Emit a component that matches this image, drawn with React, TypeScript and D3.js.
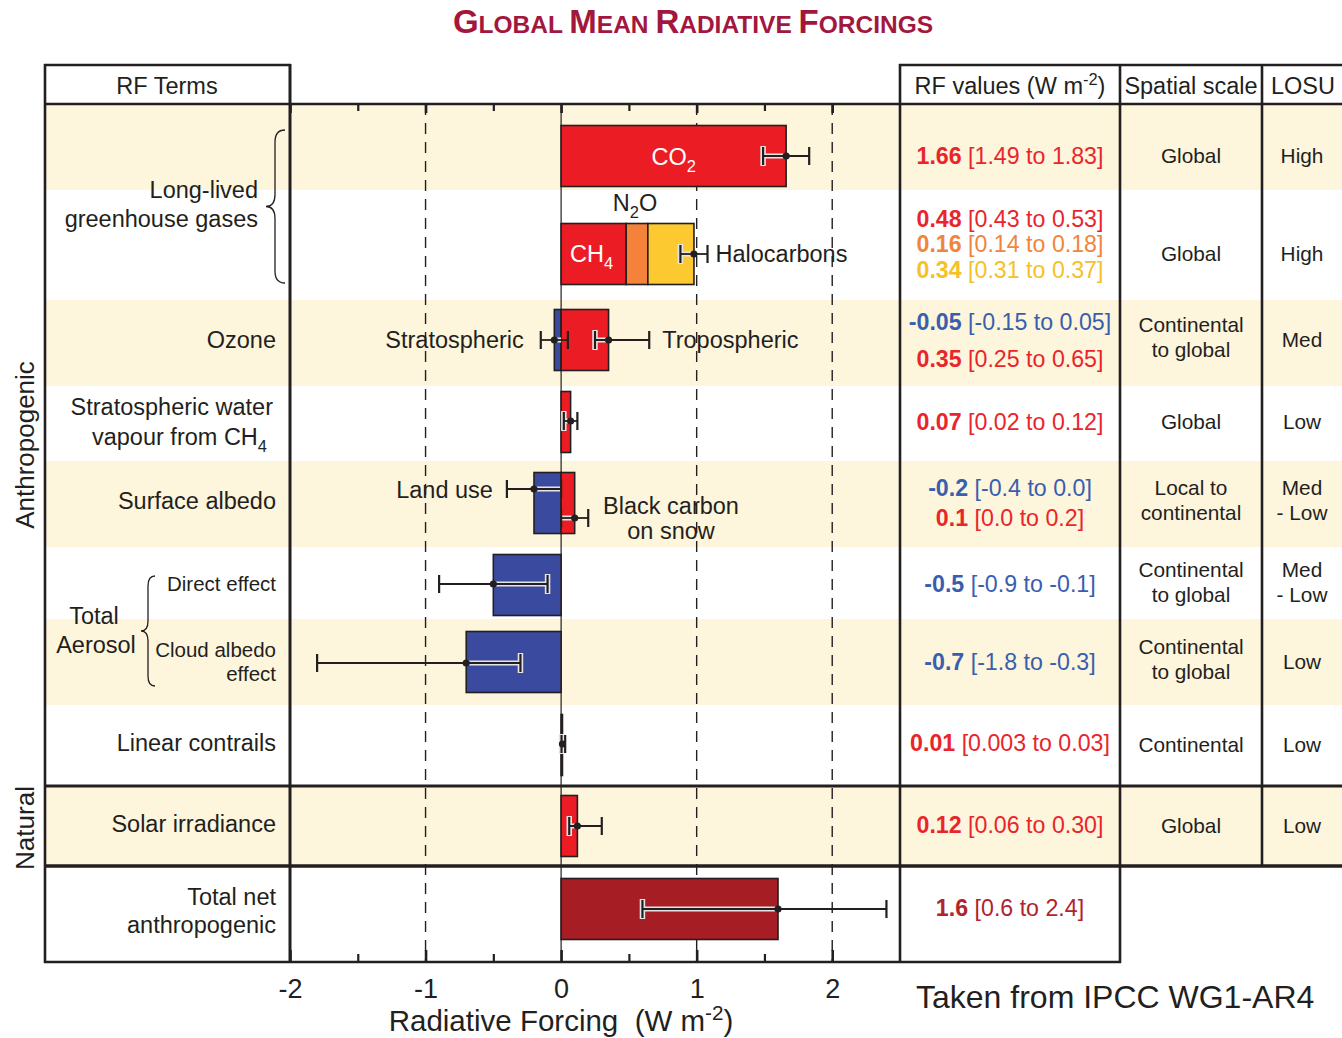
import React, { useEffect, useRef } from "react";
import * as d3 from "d3";

const WIDTH = 1342;
const HEIGHT = 1038;
const FONT = "'Liberation Sans', Arial, Helvetica, sans-serif";

// ---- values ----
const terms = [
  "CO2", "CH4", "N2O", "Halocarbons", "Stratospheric ozone", "Tropospheric ozone",
  "Stratospheric water vapour", "Land use", "Black carbon on snow", "Aerosol direct effect",
  "Cloud albedo effect", "Linear contrails", "Solar irradiance", "Total net anthropogenic",
];
const rfValue = [1.66, 0.48, 0.16, 0.34, -0.05, 0.35, 0.07, -0.2, 0.1, -0.5, -0.7, 0.01, 0.12, 1.6];
const rfLow = [1.49, 0.43, 0.14, 0.31, -0.15, 0.25, 0.02, -0.4, 0.0, -0.9, -1.8, 0.003, 0.06, 0.6];
const rfHigh = [1.83, 0.53, 0.18, 0.37, 0.05, 0.65, 0.12, 0.0, 0.2, -0.1, -0.3, 0.03, 0.3, 2.4];
const rfValueText = ["1.66", "0.48", "0.16", "0.34", "-0.05", "0.35", "0.07", "-0.2", "0.1", "-0.5", "-0.7", "0.01", "0.12", "1.6"];
const rfRangeText = [
  "[1.49 to 1.83]", "[0.43 to 0.53]", "[0.14 to 0.18]", "[0.31 to 0.37]", "[-0.15 to 0.05]",
  "[0.25 to 0.65]", "[0.02 to 0.12]", "[-0.4 to 0.0]", "[0.0 to 0.2]", "[-0.9 to -0.1]",
  "[-1.8 to -0.3]", "[0.003 to 0.03]", "[0.06 to 0.30]", "[0.6 to 2.4]",
];
const termRow = [0, 1, 1, 1, 2, 2, 3, 4, 4, 5, 6, 7, 8, 9];
const termKind = ["red", "red", "orange", "yellow", "blue", "red", "red", "blue", "red", "blue", "blue", "red", "red", "total"];

const spatialScale = [
  ["Global"], ["Global"], ["Continental", "to global"], ["Global"], ["Local to", "continental"],
  ["Continental", "to global"], ["Continental", "to global"], ["Continental"], ["Global"],
];
const losu = [["High"], ["High"], ["Med"], ["Low"], ["Med", "- Low"], ["Med", "- Low"], ["Low"], ["Low"], ["Low"]];

const majorTicks = [-2, -1, 0, 1, 2];
const minorTicks = [-1.5, -0.5, 0.5, 1.5];
const dashedTicks = [-1, 1, 2];

// ---- layout ----
const rowEdges = [104, 190, 300, 386, 461, 547, 619, 705, 786, 866, 962];
const rowMid = [156, 254, 340, 422, 503, 585, 662, 745, 826, 909];
const beigeRows = [0, 2, 4, 6, 8];
const errDy = [0, 0, 0, 0, 0, 0, -1, -14, 15, -1, 1, -1, 0, 0];
const valueY = [156, 219, 244, 270, 322, 359, 422, 488, 518, 584, 662, 743, 825, 908];
const BAR_H = 61;

const barFill: Record<string, string> = { red: "#ec1c24", orange: "#f4823a", yellow: "#fdc931", blue: "#3a4b9f", total: "#a61d24" };
const textFill: Record<string, string> = { red: "#e9252b", orange: "#f0853c", yellow: "#f6c126", blue: "#3a5eae", total: "#b1242b" };
const INK = "#231f20";

type Part = { t: string; shift?: number; bold?: boolean; fill?: string; size?: number };

function addText(g: any, x: number, y: number, parts: Part[] | string, size: number, anchor = "middle", fill = INK) {
  const p: Part[] = typeof parts === "string" ? [{ t: parts }] : parts;
  const t = g.append("text")
    .attr("x", x).attr("y", y + 0.35 * size)
    .attr("font-size", size).attr("text-anchor", anchor).attr("fill", fill);
  let cur = 0;
  p.forEach(q => {
    const target = (q.shift || 0) * size;
    const s = t.append("tspan").text(q.t);
    if (target !== cur) s.attr("dy", target - cur);
    cur = target;
    if (q.shift) s.attr("font-size", size * 0.7);
    if (q.size) s.attr("font-size", q.size);
    if (q.bold) s.attr("font-weight", "bold");
    if (q.fill) s.attr("fill", q.fill);
  });
  return t;
}

function bracePath(xr: number, xm: number, xt: number, y1: number, y2: number, r: number) {
  const mid = (y1 + y2) / 2;
  return `M${xr},${y1} Q${xm},${y1} ${xm},${y1 + r} L${xm},${mid - r} Q${xm},${mid} ${xt},${mid} ` +
    `Q${xm},${mid} ${xm},${mid + r} L${xm},${y2 - r} Q${xm},${y2} ${xr},${y2}`;
}

export default function App() {
  const ref = useRef<SVGSVGElement>(null);

  useEffect(() => {
    const svg = d3.select(ref.current);
    svg.selectAll("*").remove();
    svg.attr("font-family", FONT);

    const x = d3.scaleLinear().domain([-2, 2.5]).range([290, 900]);

    // row shading
    svg.selectAll("rect.band").data(beigeRows).join("rect")
      .attr("class", "band")
      .attr("x", 45).attr("y", i => rowEdges[i])
      .attr("width", WIDTH - 45).attr("height", i => rowEdges[i + 1] - rowEdges[i])
      .attr("fill", "#fdf5dc");

    // dashed reference lines + zero line
    svg.selectAll("line.dash").data(dashedTicks).join("line")
      .attr("x1", d => x(d)).attr("x2", d => x(d))
      .attr("y1", 104).attr("y2", 962)
      .attr("stroke", INK).attr("stroke-width", 1.4).attr("stroke-dasharray", "11,8");
    svg.append("line").attr("x1", x(0)).attr("x2", x(0)).attr("y1", 104).attr("y2", 962)
      .attr("stroke", INK).attr("stroke-width", 1.2);

    // bars (positive and negative parts stacked per row)
    const posBase: Record<number, number> = {};
    const negBase: Record<number, number> = {};
    const bars = terms.map((name, i) => {
      const row = termRow[i];
      const v = rfValue[i];
      let b0 = 0;
      if (v >= 0) { b0 = posBase[row] || 0; posBase[row] = b0 + v; }
      else { b0 = negBase[row] || 0; negBase[row] = b0 + v; }
      return { name, i, row, b0, b1: b0 + v };
    });
    svg.selectAll("rect.bar").data(bars).join("rect")
      .attr("class", "bar")
      .attr("x", d => x(Math.min(d.b0, d.b1)))
      .attr("width", d => Math.abs(x(d.b1) - x(d.b0)))
      .attr("y", d => rowMid[d.row] - BAR_H / 2)
      .attr("height", BAR_H)
      .attr("fill", d => barFill[termKind[d.i]])
      .attr("stroke", INK).attr("stroke-width", 1.6);

    // error bars: stacked LLGHG row gets one combined bar
    const stackedRow = 1;
    const errs: { v: number; lo: number; hi: number; y: number; bMin: number; bMax: number }[] = [];
    bars.forEach(d => {
      if (d.row === stackedRow) return;
      const v = rfValue[d.i];
      errs.push({ v, lo: rfLow[d.i], hi: rfHigh[d.i], y: rowMid[d.row] + errDy[d.i], bMin: Math.min(0, v), bMax: Math.max(0, v) });
    });
    const stackIdx = bars.filter(d => d.row === stackedRow).map(d => d.i);
    const stackV = d3.sum(stackIdx, i => rfValue[i]);
    errs.push({
      v: stackV, lo: d3.sum(stackIdx, i => rfLow[i]), hi: d3.sum(stackIdx, i => rfHigh[i]),
      y: rowMid[stackedRow], bMin: 0, bMax: stackV,
    });

    const eg = svg.append("g");
    errs.forEach(e => {
      const a = Math.max(e.lo, e.bMin), b = Math.min(e.hi, e.bMax);
      if (b > a) {
        eg.append("line").attr("x1", x(a)).attr("x2", x(b)).attr("y1", e.y).attr("y2", e.y)
          .attr("stroke", "#e4e4e4").attr("stroke-width", 5);
      }
      [e.lo, e.hi].forEach(c => {
        if (c > e.bMin && c < e.bMax) {
          eg.append("line").attr("x1", x(c)).attr("x2", x(c)).attr("y1", e.y - 10).attr("y2", e.y + 10)
            .attr("stroke", "#e4e4e4").attr("stroke-width", 5.5);
        }
      });
      eg.append("line").attr("x1", x(e.lo)).attr("x2", x(e.hi)).attr("y1", e.y).attr("y2", e.y)
        .attr("stroke", INK).attr("stroke-width", 1.8);
      [e.lo, e.hi].forEach(c => {
        eg.append("line").attr("x1", x(c)).attr("x2", x(c)).attr("y1", e.y - 9).attr("y2", e.y + 9)
          .attr("stroke", INK).attr("stroke-width", 2.2);
      });
      eg.append("circle").attr("cx", x(e.v)).attr("cy", e.y).attr("r", 3.6).attr("fill", INK);
    });

    // labels on the plot
    const ag = svg.append("g");
    addText(ag, x(rfValue[0] / 2), 157, [{ t: "CO" }, { t: "2", shift: 0.3 }], 23.5, "middle", "#fff");
    addText(ag, x(rfValue[1] / 2) - 2, 254, [{ t: "CH" }, { t: "4", shift: 0.3 }], 23.5, "middle", "#fff");
    addText(ag, x(rfValue[1] + rfValue[2] / 2) - 2, 203, [{ t: "N" }, { t: "2", shift: 0.3 }, { t: "O" }], 23.5);
    addText(ag, x(d3.sum(stackIdx, i => rfHigh[i])) + 8, 254, "Halocarbons", 23.5, "start");
    addText(ag, x(rfLow[4]) - 17, 340, "Stratospheric", 23.5, "end");
    addText(ag, x(rfHigh[5]) + 13, 340, "Tropospheric", 23.5, "start");
    addText(ag, x(rfLow[7]) - 14, 490, "Land use", 23.5, "end");
    addText(ag, 671, 506, "Black carbon", 23.5);
    addText(ag, 671, 531, "on snow", 23.5);

    // table lines
    const lg = svg.append("g").attr("stroke", INK).attr("fill", "none");
    const hl = (x1: number, x2: number, y: number, w = 2.6) =>
      lg.append("line").attr("x1", x1).attr("x2", x2).attr("y1", y).attr("y2", y).attr("stroke-width", w);
    const vl = (xx: number, y1: number, y2: number, w = 2.6) =>
      lg.append("line").attr("x1", xx).attr("x2", xx).attr("y1", y1).attr("y2", y2).attr("stroke-width", w);
    hl(44, 291, 65);
    hl(899, WIDTH, 65);
    hl(44, WIDTH, 104);
    hl(44, WIDTH, 786, 3);
    hl(44, WIDTH, 866, 3.6);
    hl(44, 1121, 962);
    vl(45, 64, 963);
    vl(290, 64, 963, 3);
    vl(900, 64, 963);
    vl(1120, 64, 963);
    vl(1262, 64, 866);

    // axes
    const styleAxis = (g: any, w: number) => {
      g.select(".domain").remove();
      g.selectAll(".tick line").attr("stroke", INK).attr("stroke-width", w);
    };
    const tg = svg.append("g").attr("transform", "translate(0,104)")
      .call(d3.axisTop(x).tickValues(majorTicks).tickSize(-9).tickFormat(() => ""));
    styleAxis(tg, 2.6);
    const tg2 = svg.append("g").attr("transform", "translate(0,104)")
      .call(d3.axisTop(x).tickValues(minorTicks).tickSize(-7).tickFormat(() => ""));
    styleAxis(tg2, 2.2);
    const bg = svg.append("g").attr("transform", "translate(0,962)")
      .call(d3.axisBottom(x).tickValues(majorTicks).tickSize(-12).tickPadding(17).tickFormat(d => String(d)));
    styleAxis(bg, 2.6);
    bg.selectAll(".tick text").attr("font-family", FONT).attr("font-size", 27).attr("fill", INK);
    const bg2 = svg.append("g").attr("transform", "translate(0,962)")
      .call(d3.axisBottom(x).tickValues(minorTicks).tickSize(-8).tickFormat(() => ""));
    styleAxis(bg2, 2.2);

    // title
    const title = svg.append("text").attr("x", 693).attr("y", 33).attr("text-anchor", "middle")
      .attr("font-weight", "bold").attr("fill", "#a3173f");
    [["G", "LOBAL "], ["M", "EAN "], ["R", "ADIATIVE "], ["F", "ORCINGS"]].forEach(([a, b]) => {
      title.append("tspan").attr("font-size", 33).text(a);
      title.append("tspan").attr("font-size", 24.5).text(b);
    });

    // headers
    const tx = svg.append("g");
    addText(tx, 167, 86, "RF Terms", 23.5);
    addText(tx, 1010, 86, [{ t: "RF values (W m" }, { t: "-2", shift: -0.38 }, { t: ")" }], 23.5);
    addText(tx, 1191, 86, "Spatial scale", 23.5);
    addText(tx, 1303, 86, "LOSU", 23.5);

    // term labels
    addText(tx, 258, 190, "Long-lived", 23.5, "end");
    addText(tx, 258, 219, "greenhouse gases", 23.5, "end");
    addText(tx, 276, 340, "Ozone", 23.5, "end");
    addText(tx, 273, 407, "Stratospheric water", 23.5, "end");
    addText(tx, 267, 437, [{ t: "vapour from CH" }, { t: "4", shift: 0.3 }], 23.5, "end");
    addText(tx, 276, 501, "Surface albedo", 23.5, "end");
    addText(tx, 276, 584, "Direct effect", 20.5, "end");
    addText(tx, 94, 616, "Total", 23.5);
    addText(tx, 96, 645, "Aerosol", 23.5);
    addText(tx, 276, 650, "Cloud albedo", 20.5, "end");
    addText(tx, 276, 674, "effect", 20.5, "end");
    addText(tx, 276, 743, "Linear contrails", 23.5, "end");
    addText(tx, 276, 824, "Solar irradiance", 23.5, "end");
    addText(tx, 276, 897, "Total net", 23.5, "end");
    addText(tx, 276, 925, "anthropogenic", 23.5, "end");

    svg.append("path").attr("d", bracePath(285, 275, 266, 130, 283, 12))
      .attr("fill", "none").attr("stroke", INK).attr("stroke-width", 1.3);
    svg.append("path").attr("d", bracePath(155, 148, 141, 576, 686, 10))
      .attr("fill", "none").attr("stroke", INK).attr("stroke-width", 1.3);

    addText(tx, 0, 0, "Anthropogenic", 26).attr("transform", "translate(25,445) rotate(-90)").attr("y", 9);
    addText(tx, 0, 0, "Natural", 26).attr("transform", "translate(25,828) rotate(-90)").attr("y", 9);

    // RF values column
    terms.forEach((_, i) => {
      const c = textFill[termKind[i]];
      addText(tx, 1010, valueY[i], [{ t: rfValueText[i] + " ", bold: true }, { t: rfRangeText[i] }], 23.2, "middle", c);
    });

    // spatial scale + LOSU
    spatialScale.forEach((lines, r) => {
      lines.forEach((s, k) => addText(tx, 1191, rowMid[r] + (k - (lines.length - 1) / 2) * 25 - (lines.length > 1 ? 3 : 0), s, 20.8));
    });
    losu.forEach((lines, r) => {
      lines.forEach((s, k) => addText(tx, 1302, rowMid[r] + (k - (lines.length - 1) / 2) * 25 - (lines.length > 1 ? 3 : 0), s, 20.8));
    });

    // axis title + source
    addText(tx, 561, 1021, [{ t: "Radiative Forcing  (W m" }, { t: "-2", shift: -0.38 }, { t: ")" }], 29.5)
      .attr("xml:space", "preserve");
    addText(tx, 916, 997, "Taken from IPCC WG1-AR4", 32, "start");
  }, []);

  return (
    <svg
      ref={ref}
      width={WIDTH}
      height={HEIGHT}
      style={{ position: "absolute", left: 0, top: 0, background: "#fff" }}
    />
  );
}
